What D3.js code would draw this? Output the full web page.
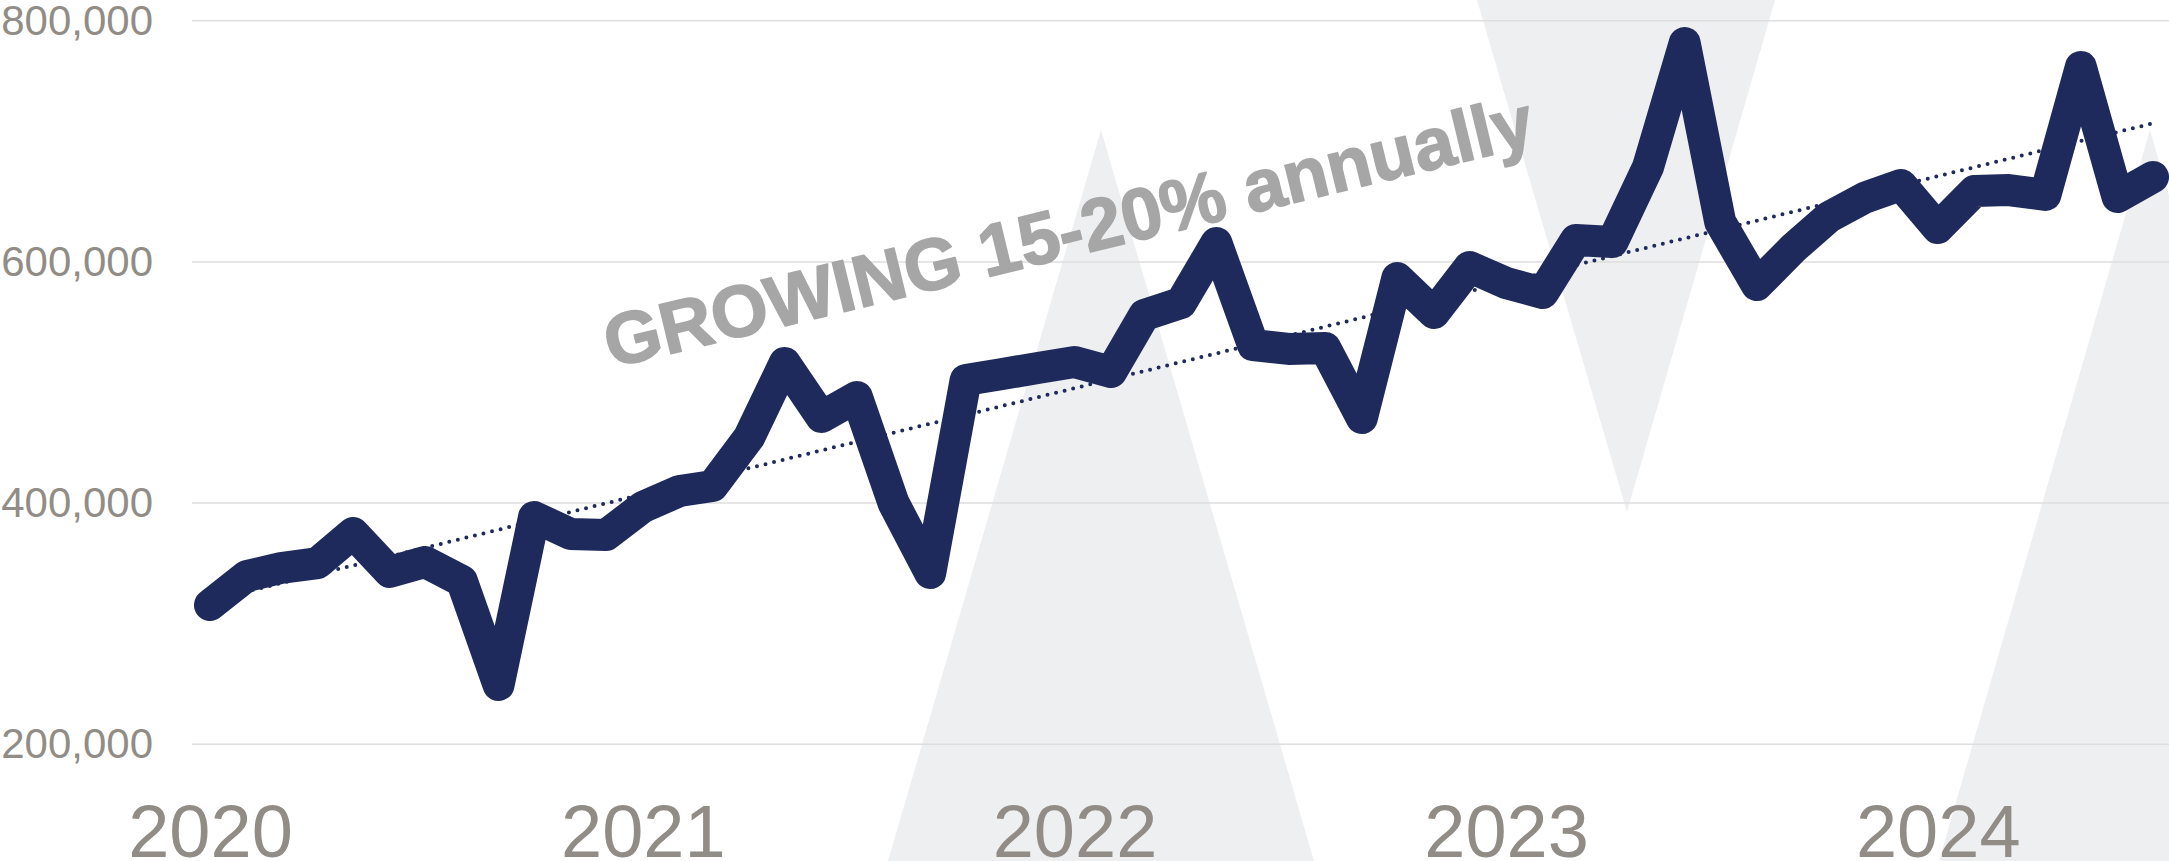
<!DOCTYPE html>
<html>
<head>
<meta charset="utf-8">
<script src="https://cdn.jsdelivr.net/npm/d3@7"></script>
<style>
  html, body { margin: 0; padding: 0; background: #fff; overflow: hidden; }
  svg { display: block; }
  text { font-family: "Liberation Sans", Arial, sans-serif; }
</style>
</head>
<body>
<div id="chart"><svg></svg></div>
<script>
// monthly series, Jan 2020 .. Jul 2024
const firstMonth = new Date(2020, 0, 1);
const values = [
  315500, 339500, 346200, 350300, 375200, 342900, 351200, 335400, 249200, 388500,
  374400, 373600, 396800, 410000, 414200, 454800, 516200, 471400, 488000, 400100,
  342000, 502100, 507100, 512000, 517000, 508700, 556000, 565900, 615700, 531100,
  527800, 528600, 470600, 586600, 557600, 595800, 582500, 574200, 618200, 616500,
  678700, 781500, 633100, 580800, 611500, 637200, 653600, 663800, 628100, 658800,
  659600, 655500, 761600, 653800, 670400
];
const years = [2020, 2021, 2022, 2023, 2024];
const yTicks = [200000, 400000, 600000, 800000];
const annotation = "GROWING 15-20% annually";

// light background shapes behind the plot (pixel space)
const backdrop = [
  [[888, 861], [1101, 130], [1314, 861]],
  [[1477, 0], [1775, 0], [1627, 512]],
  [[1939, 861], [2150, 130], [2361, 861]]
];

const width = 2169;
const height = 861;
const navy = "#1f2a5c";
const labelGrey = "#918d86";

const data = values.map((v, i) => ({
  date: d3.timeMonth.offset(firstMonth, i),
  index: i,
  value: v
}));

var svg = d3.select("#chart > svg");
svg.selectAll("*").remove();
svg.attr("width", width).attr("height", height);

var x = d3
  .scaleTime()
  .domain(d3.extent(data, d => d.date))
  .range([210, 2153]);

var y = d3
  .scaleLinear()
  .domain([200000, 800000])
  .range([744.3, 20.7]);

// backdrop
svg
  .append("g")
  .attr("fill", "#eeeff1")
  .selectAll("path")
  .data(backdrop)
  .join("path")
  .attr("d", d => "M" + d.join("L") + "Z");

// gridlines
svg
  .append("g")
  .selectAll("line")
  .data(yTicks)
  .join("line")
  .attr("x1", 192)
  .attr("x2", width)
  .attr("y1", d => y(d))
  .attr("y2", d => y(d))
  .attr("stroke", "#dedede")
  .attr("stroke-width", 1.5);

// y labels
svg
  .append("g")
  .attr("transform", "translate(153,0)")
  .call(
    d3
      .axisLeft(y)
      .tickValues(yTicks)
      .tickFormat(d3.format(","))
      .tickSize(0)
      .tickPadding(0)
  )
  .call(g => g.select(".domain").remove())
  .selectAll("text")
  .attr("font-family", '"Liberation Sans", Arial, sans-serif')
  .attr("font-size", 42)
  .attr("fill", labelGrey);

// year labels
svg
  .append("g")
  .attr("transform", "translate(0,857)")
  .call(
    d3
      .axisBottom(x)
      .tickValues(years.map(yr => new Date(yr, 0, 1)))
      .tickFormat(d3.timeFormat("%Y"))
      .tickSize(0)
      .tickPadding(0)
  )
  .call(g => g.select(".domain").remove())
  .selectAll("text")
  .attr("dy", 0)
  .attr("font-family", '"Liberation Sans", Arial, sans-serif')
  .attr("font-size", 74)
  .attr("fill", labelGrey);

// linear trend (least squares over month index)
const meanI = d3.mean(data, d => d.index);
const meanV = d3.mean(data, d => d.value);
const slope =
  d3.sum(data, d => (d.index - meanI) * (d.value - meanV)) /
  d3.sum(data, d => (d.index - meanI) * (d.index - meanI));
const trend = [data[0], data[data.length - 1]].map(d => ({
  date: d.date,
  value: meanV + slope * (d.index - meanI)
}));

var line = d3
  .line()
  .x(d => x(d.date))
  .y(d => y(d.value));

svg
  .append("path")
  .datum(trend)
  .attr("fill", "none")
  .attr("stroke", navy)
  .attr("stroke-width", 4)
  .attr("stroke-linecap", "round")
  .attr("stroke-dasharray", "0 8.8")
  .attr("d", line);

// annotation
svg
  .append("text")
  .attr("transform", "translate(611,368) rotate(-13.6)")
  .attr("font-size", 73)
  .attr("font-weight", "bold")
  .attr("fill", "#a6a6a6")
  .attr("stroke", "#a6a6a6")
  .attr("stroke-width", 1.6)
  .attr("stroke-linejoin", "round")
  .text(annotation);

// main series
svg
  .append("path")
  .datum(data)
  .attr("fill", "none")
  .attr("stroke", navy)
  .attr("stroke-width", 32)
  .attr("stroke-linejoin", "round")
  .attr("stroke-linecap", "round")
  .attr("d", line);
</script>
</body>
</html>
